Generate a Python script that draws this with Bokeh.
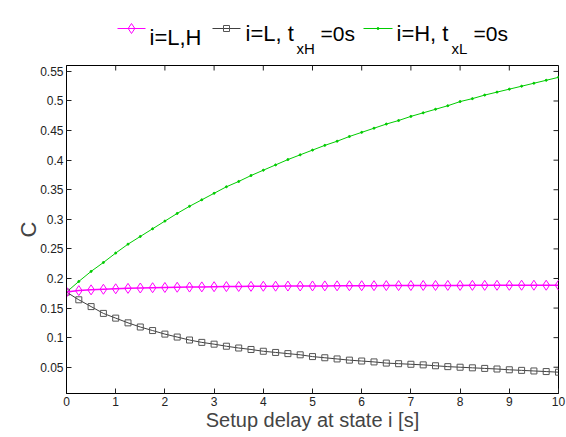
from bokeh.plotting import figure
from bokeh.layouts import column
from bokeh.models import Range1d, FixedTicker
from bokeh.embed import file_html
from bokeh.resources import INLINE
from bokeh.core.properties import value

# ---------------- data ----------------
t = [0.0, 0.25, 0.5, 0.75, 1.0, 1.25, 1.5, 1.75, 2.0, 2.25, 2.5, 2.75, 3.0, 3.25,
     3.5, 3.75, 4.0, 4.25, 4.5, 4.75, 5.0, 5.25, 5.5, 5.75, 6.0, 6.25, 6.5, 6.75,
     7.0, 7.25, 7.5, 7.75, 8.0, 8.25, 8.5, 8.75, 9.0, 9.25, 9.5, 9.75, 10.0]

c_LH = [0.1770, 0.1795, 0.1808, 0.1818, 0.1826, 0.1833, 0.1839, 0.1844, 0.1848,
        0.1852, 0.1855, 0.1858, 0.1861, 0.1863, 0.1865, 0.1867, 0.1869, 0.1870,
        0.1872, 0.1873, 0.1874, 0.1875, 0.1876, 0.1877, 0.1878, 0.1879, 0.1880,
        0.1880, 0.1881, 0.1882, 0.1882, 0.1883, 0.1883, 0.1884, 0.1884, 0.1885,
        0.1885, 0.1886, 0.1886, 0.1886, 0.1887]

c_L = [0.177, 0.164, 0.1525, 0.141, 0.133, 0.125, 0.118, 0.112, 0.106, 0.101,
       0.096, 0.092, 0.089, 0.0855, 0.0825, 0.080, 0.077, 0.075, 0.073, 0.071,
       0.068, 0.066, 0.064, 0.062, 0.0605, 0.059, 0.057, 0.056, 0.055, 0.054,
       0.0525, 0.051, 0.050, 0.049, 0.048, 0.047, 0.0457, 0.0447, 0.0437,
       0.0427, 0.0416]

c_H = [0.177, 0.195, 0.212, 0.227, 0.243, 0.258, 0.271, 0.284, 0.297, 0.310,
       0.322, 0.333, 0.344, 0.355, 0.364, 0.374, 0.383, 0.392, 0.401, 0.409,
       0.417, 0.425, 0.432, 0.440, 0.447, 0.454, 0.461, 0.467, 0.474, 0.480,
       0.486, 0.492, 0.499, 0.504, 0.510, 0.515, 0.520, 0.525, 0.530, 0.535,
       0.540]

x_ticks = [0, 1, 2, 3, 4, 5, 6, 7, 8, 9, 10]
y_ticks = [0.05, 0.1, 0.15, 0.2, 0.25, 0.3, 0.35, 0.4, 0.45, 0.5, 0.55]
y_tick_labels = ["0.05", "0.1", "0.15", "0.2", "0.25", "0.3", "0.35", "0.4",
                 "0.45", "0.5", "0.55"]

legend_main = ["i=L,H", "i=L, t", "i=H, t"]
legend_sub = ["", "xH", "xL"]
legend_tail = ["", "=0s", "=0s"]

x_label = "Setup delay at state i [s]"
y_label = "C"

# ---------------- style ----------------
FONT = "Liberation Sans"
MAGENTA = "#ff00ff"
GRAY = "#404040"
MARK_GRAY = "#555555"
GREEN = "#00cc00"

X0, X1 = 0, 10
Y0, Y1 = 0.0056, 0.56
FIG_W = 566
LEG_H = 58

# ---------------- legend strip (coordinates = page pixels) ----------------
leg = figure(width=FIG_W, height=LEG_H, x_range=Range1d(0, FIG_W),
             y_range=Range1d(LEG_H, 0), toolbar_location=None, output_backend="svg",
             x_axis_type=None, y_axis_type=None, min_border=0)
leg.frame_align = False
leg.grid.visible = False
leg.outline_line_color = None

line_x0 = [117, 212, 363]
line_x1 = [145, 240, 392]
line_y = 28
colors = [MAGENTA, GRAY, GREEN]
main_x = [149, 245, 396]
main_y = [37, 33, 33]
sub_x = [0, 296, 451]
tail_x = [0, 320, 473]

for i in range(3):
    leg.segment(x0=line_x0[i], y0=line_y, x1=line_x1[i], y1=line_y,
                line_color=colors[i], line_width=1.2)
    leg.text(x=[main_x[i]], y=[main_y[i]], text=[legend_main[i]],
             text_font=value(FONT), text_font_size="22px",
             text_baseline="alphabetic", text_align="left", text_color="black")
    if legend_sub[i]:
        leg.text(x=[sub_x[i]], y=[48], text=[legend_sub[i]],
                 text_font=value(FONT), text_font_size="15px",
                 text_baseline="alphabetic", text_align="left", text_color="black")
        leg.text(x=[tail_x[i]], y=[main_y[i]], text=[legend_tail[i]],
                 text_font=value(FONT), text_font_size="21px",
                 text_baseline="alphabetic", text_align="left", text_color="black")

leg.scatter(x=[(line_x0[0] + line_x1[0]) / 2], y=[line_y], marker="diamond",
            size=10, line_color=MAGENTA, fill_color=None, line_width=1)
leg.scatter(x=[(line_x0[1] + line_x1[1]) / 2], y=[line_y], marker="square",
            size=6, line_color=MARK_GRAY, fill_color=None, line_width=1)
leg.scatter(x=[(line_x0[2] + line_x1[2]) / 2], y=[line_y], marker="circle",
            size=2, line_color=GREEN, fill_color=GREEN)

# ---------------- main plot ----------------
B_LEFT, B_RIGHT, B_TOP, B_BOTTOM = 66, 8, 65 - LEG_H, 44
FRAME_H = 328
FRAME_W = FIG_W - B_LEFT - B_RIGHT
p = figure(width=FIG_W, height=B_TOP + FRAME_H + B_BOTTOM,
           x_range=Range1d(X0, X1), y_range=Range1d(Y0, Y1),
           toolbar_location=None, output_backend="svg",
           min_border_left=B_LEFT, min_border_right=B_RIGHT, min_border_top=B_TOP,
           min_border_bottom=B_BOTTOM)
p.frame_align = False
p.grid.visible = False
p.outline_line_color = "black"
p.outline_line_width = 1

for ax, ticks in ((p.xaxis[0], x_ticks), (p.yaxis[0], y_ticks)):
    ax.ticker = FixedTicker(ticks=ticks)
    ax.major_tick_in = 5
    ax.major_tick_out = 0
    ax.minor_tick_line_color = None
    ax.axis_line_color = "black"
    ax.major_tick_line_color = "#222222"
    ax.major_label_text_font = FONT
    ax.major_label_text_font_size = "12px"
    ax.major_label_text_color = "#222222"
    ax.axis_label_text_font = FONT
    ax.axis_label_text_font_style = "normal"

p.xaxis[0].major_label_standoff = 3
p.xaxis[0].axis_label = x_label
p.xaxis[0].axis_label_text_font_size = "20px"
p.xaxis[0].axis_label_standoff = 0

p.yaxis[0].major_label_overrides = {v: s for v, s in zip(y_ticks, y_tick_labels)}
p.yaxis[0].major_label_standoff = 3
p.yaxis[0].axis_label = y_label
p.yaxis[0].axis_label_text_font_size = "22px"
p.yaxis[0].axis_label_standoff = -4

# box ticks on top and right edges (MATLAB style "box on")
dy = 5 / FRAME_H * (Y1 - Y0)
dx = 5 / FRAME_W * (X1 - X0)
p.segment(x0=x_ticks, y0=[Y1] * len(x_ticks), x1=x_ticks, y1=[Y1 - dy] * len(x_ticks),
          line_color="#222222", line_width=1)
p.segment(x0=[X1] * len(y_ticks), y0=y_ticks, x1=[X1 - dx] * len(y_ticks), y1=y_ticks,
          line_color="#222222", line_width=1)

# series
p.line(t, c_H, line_color=GREEN, line_width=1)
p.scatter(t, c_H, marker="circle", size=2, line_color=GREEN, fill_color=GREEN)

p.line(t, c_L, line_color=GRAY, line_width=1)
p.scatter(t, c_L, marker="square", size=6, line_color=MARK_GRAY,
          fill_color=None, line_width=1)

p.line(t, c_LH, line_color=MAGENTA, line_width=1.5)
p.scatter(t, c_LH, marker="diamond", size=10, line_color=MAGENTA,
          fill_color=None, line_width=1)

layout = column(leg, p, spacing=0)
open("out.html", "w").write(file_html(layout, INLINE))
